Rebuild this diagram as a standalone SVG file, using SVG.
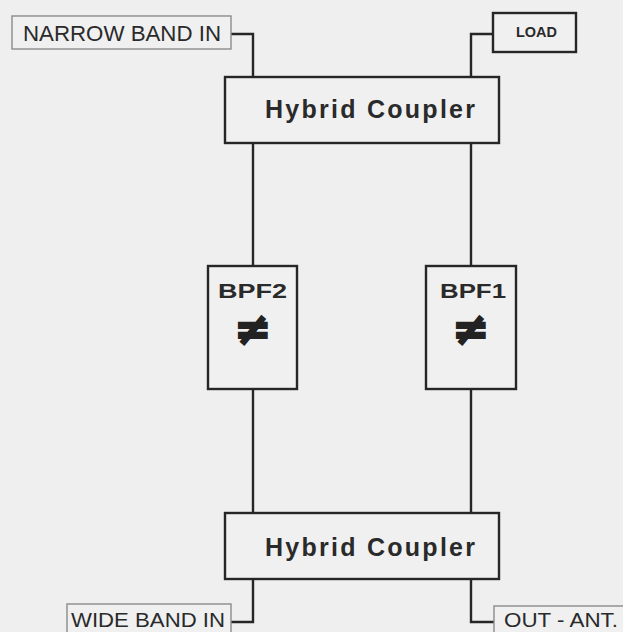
<svg xmlns="http://www.w3.org/2000/svg" width="623" height="632" viewBox="0 0 623 632">
<style>
.bg{fill:#efefef}
.box{fill:#f0f0f0;stroke:#262626;stroke-width:2.4}
.port{fill:#f0f0f0;stroke:#8c8c8c;stroke-width:1.4}
.wire{fill:none;stroke:#262626;stroke-width:2.4}
.t{font-family:"Liberation Sans",Arial,sans-serif;fill:#2a2a2a}
.b{font-weight:bold}
.ne{font-family:"DejaVu Sans",sans-serif;font-weight:bold;font-size:44px;fill:#222;stroke:#222;stroke-width:2.2}
</style>
<rect class="bg" x="0" y="0" width="623" height="632"/>
<g id="connectors">
<path class="wire" d="M231,34 H253 V77"/>
<path class="wire" d="M493,34 H471 V77"/>
<path class="wire" d="M253,143 V266"/>
<path class="wire" d="M471,143 V266"/>
<path class="wire" d="M253,389 V513"/>
<path class="wire" d="M471,389 V513"/>
<path class="wire" d="M253,579 V622 H231"/>
<path class="wire" d="M471,579 V622 H494"/>
</g>
<g id="narrow-band-in">
<rect class="port" x="12" y="16" width="219" height="33"/>
<text class="t" x="23" y="41" font-size="22" textLength="198" lengthAdjust="spacingAndGlyphs">NARROW BAND IN</text>
</g>
<g id="load">
<rect class="box" x="493" y="13" width="83" height="39"/>
<text class="t b" x="516" y="37" font-size="14" textLength="41" lengthAdjust="spacingAndGlyphs">LOAD</text>
</g>
<g id="hybrid-coupler-top">
<rect class="box" x="225" y="77" width="274" height="66"/>
<text class="t b" x="265" y="118" font-size="25" textLength="210" lengthAdjust="spacing">Hybrid Coupler</text>
</g>
<g id="bpf2">
<rect class="box" x="208" y="266" width="89" height="123"/>
<text class="t b" x="218" y="298" font-size="20" textLength="69" lengthAdjust="spacingAndGlyphs">BPF2</text>
<text class="ne" x="253" y="344" text-anchor="middle">≠</text>
</g>
<g id="bpf1">
<rect class="box" x="426" y="266" width="90" height="123"/>
<text class="t b" x="440" y="298" font-size="20" textLength="66" lengthAdjust="spacingAndGlyphs">BPF1</text>
<text class="ne" x="471" y="344" text-anchor="middle">≠</text>
</g>
<g id="hybrid-coupler-bottom">
<rect class="box" x="225" y="513" width="274" height="66"/>
<text class="t b" x="265" y="556" font-size="25" textLength="210" lengthAdjust="spacing">Hybrid Coupler</text>
</g>
<g id="wide-band-in">
<rect class="port" x="67" y="604" width="164" height="40"/>
<text class="t" x="71" y="627" font-size="21" textLength="154" lengthAdjust="spacingAndGlyphs">WIDE BAND IN</text>
</g>
<g id="out-ant">
<rect class="port" x="494" y="606" width="140" height="40"/>
<text class="t" x="504" y="627" font-size="21" textLength="114" lengthAdjust="spacingAndGlyphs">OUT - ANT.</text>
</g>
</svg>
